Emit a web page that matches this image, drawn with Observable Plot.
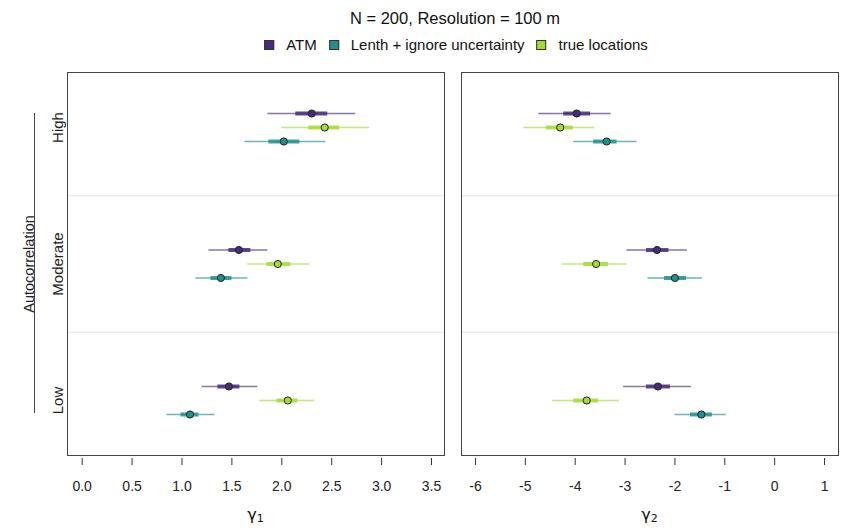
<!DOCTYPE html>
<html><head><meta charset="utf-8">
<script src="https://cdn.jsdelivr.net/npm/d3@7"></script>
<script src="https://cdn.jsdelivr.net/npm/@observablehq/plot@0.6"></script>
<style>
body{margin:0;background:#fff;font-family:"Liberation Sans",Arial,Helvetica,sans-serif;color:#111;}
#wrap{position:relative;width:846px;height:530px;overflow:hidden;}
.abs{position:absolute;}
.plotbox{position:absolute;top:0;}
#title{top:9px;left:455px;transform:translateX(-50%);font-size:16.5px;white-space:nowrap;}
#legend{top:36px;left:456px;transform:translateX(-50%);display:flex;align-items:center;font-size:15px;white-space:nowrap;}
.sw{width:8px;height:8px;border:1px solid #333;margin-right:12px;}
.lab{margin-right:12px;}
.xt{top:505px;transform:translateX(-50%);font-size:16px;font-family:"DejaVu Sans",sans-serif;}
.xt sub{font-size:11px;vertical-align:-2px;}
</style></head><body><div id="wrap"></div>
<script>
// ---- data ----
const series = ["ATM", "Lenth + ignore uncertainty", "true locations"];
const colors = ["#472c7a", "#21908c", "#a5db36"];
const levels = ["Low", "Moderate", "High"];
const levelPos = [1, 2, 3];
const titleText = "N = 200, Resolution = 100 m";
const yTitle = "Autocorrelation";

// gamma1: rows = series, cols = levels (Low, Moderate, High)
const g1Est    = [[1.47, 1.57, 2.30], [1.08, 1.39, 2.02], [2.06, 1.96, 2.43]];
const g1Lo50   = [[1.36, 1.47, 2.14], [0.99, 1.29, 1.87], [1.95, 1.85, 2.27]];
const g1Hi50   = [[1.58, 1.69, 2.46], [1.17, 1.50, 2.18], [2.16, 2.09, 2.58]];
const g1Lo95   = [[1.20, 1.27, 1.86], [0.85, 1.14, 1.63], [1.78, 1.66, 2.00]];
const g1Hi95   = [[1.76, 1.86, 2.74], [1.33, 1.66, 2.44], [2.33, 2.28, 2.88]];
// gamma2
const g2Est    = [[-2.34, -2.36, -3.97], [-1.47, -2.00, -3.37], [-3.77, -3.58, -4.30]];
const g2Lo50   = [[-2.57, -2.57, -4.23], [-1.69, -2.21, -3.63], [-4.03, -3.83, -4.58]];
const g2Hi50   = [[-2.09, -2.12, -3.69], [-1.25, -1.77, -3.16], [-3.53, -3.33, -4.04]];
const g2Lo95   = [[-3.03, -2.96, -4.73], [-2.00, -2.54, -4.03], [-4.45, -4.26, -5.03]];
const g2Hi95   = [[-1.67, -1.75, -3.28], [-0.97, -1.45, -2.76], [-3.11, -2.96, -3.61]];

const xTicks1 = [0, 0.5, 1, 1.5, 2, 2.5, 3, 3.5];
const xTicks2 = [-6, -5, -4, -3, -2, -1, 0, 1];

// ---- layout ----
const seriesDy = [-14, 14, 0];
const W = 846, H = 530;
const wrap = document.getElementById("wrap");

function rowsFor(i, est, lo50, hi50, lo95, hi95) {
  return levels.map((l, j) => ({
    series: series[i], level: l, y: levelPos[j],
    est: est[i][j], lo50: lo50[i][j], hi50: hi50[i][j], lo95: lo95[i][j], hi95: hi95[i][j]
  }));
}

function panel({est, lo50, hi50, lo95, hi95, xDomain, xTicks, fmt, width, ml, mr, left, withY}) {
  const marks = [];
  const seps = d3.pairs(levelPos).map(([a, b]) => (a + b) / 2);
  marks.push(Plot.ruleY(seps, {stroke: "#e6e6e6", strokeWidth: 1}));
  series.forEach((s, i) => {
    const rows = rowsFor(i, est, lo50, hi50, lo95, hi95);
    const dy = seriesDy[i];
    marks.push(Plot.ruleY(rows, {y: "y", x1: "lo95", x2: "hi95", stroke: colors[i], strokeWidth: 1.4, strokeOpacity: 0.65, dy}));
    marks.push(Plot.ruleY(rows, {y: "y", x1: "lo50", x2: "hi50", stroke: colors[i], strokeWidth: 4, strokeOpacity: 0.85, dy}));
    marks.push(Plot.dot(rows, {x: "est", y: "y", r: 3.6, fill: colors[i], stroke: "#222", strokeWidth: 1, dy}));
  });
  marks.push(Plot.frame({stroke: "#444", strokeWidth: 1}));
  marks.push(Plot.axisX({ticks: xTicks, tickFormat: fmt, tickSize: 7, tickPadding: 16, dy: 3, label: null, stroke: "#333", fill: "#222", fontSize: 14}));
  if (withY) {
    marks.push(Plot.text(levels, {y: (d, j) => levelPos[j], text: d => d, frameAnchor: "left", dx: -5, rotate: -90, lineAnchor: "bottom", textAnchor: "middle", fontSize: 15, fill: "#222"}));
    marks.push(Plot.ruleX([xDomain[0]], {y1: levelPos[levelPos.length - 1], y2: levelPos[0], dx: -33, insetTop: -14, insetBottom: -13, stroke: "#444"}));
    marks.push(Plot.text([yTitle], {y: levelPos[1], text: d => d, frameAnchor: "left", dx: -34, rotate: -90, lineAnchor: "bottom", textAnchor: "middle", fontSize: 14.5, fill: "#222"}));
  }
  const p = Plot.plot({
    width, height: H, marginTop: 72, marginBottom: 75, marginLeft: ml, marginRight: mr,
    x: {domain: xDomain, axis: null},
    y: {domain: [0.597, 3.403], axis: null},
    style: {background: "transparent", fontSize: "14px", fontFamily: "'Liberation Sans', Arial, sans-serif", overflow: "visible"},
    marks
  });
  const box = document.createElement("div");
  box.className = "plotbox";
  box.style.left = left + "px";
  box.appendChild(p);
  wrap.appendChild(box);
}

panel({est: g1Est, lo50: g1Lo50, hi50: g1Hi50, lo95: g1Lo95, hi95: g1Hi95,
  xDomain: [-0.147, 3.63], xTicks: xTicks1, fmt: d3.format(".1f"),
  width: 450, ml: 67, mr: 6, left: 0, withY: true});
panel({est: g2Est, lo50: g2Lo50, hi50: g2Hi50, lo95: g2Lo95, hi95: g2Hi95,
  xDomain: [-6.28, 1.28], xTicks: xTicks2, fmt: d => String(d),
  width: 396, ml: 11, mr: 8, left: 450, withY: false});

// title, legend, axis titles
const t = document.createElement("div");
t.id = "title"; t.className = "abs"; t.textContent = titleText; wrap.appendChild(t);
const lg = document.createElement("div");
lg.id = "legend"; lg.className = "abs";
series.forEach((s, i) => {
  const sw = document.createElement("div"); sw.className = "sw"; sw.style.background = colors[i];
  const lb = document.createElement("span"); lb.className = "lab"; lb.textContent = s;
  if (i === series.length - 1) lb.style.marginRight = "0";
  lg.appendChild(sw); lg.appendChild(lb);
});
wrap.appendChild(lg);
[["1", 255.5], ["2", 649.5]].forEach(([sub, cx]) => {
  const d = document.createElement("div");
  d.className = "abs xt"; d.style.left = cx + "px";
  d.innerHTML = "γ<sub>" + sub + "</sub>";
  wrap.appendChild(d);
});
</script></body></html>
